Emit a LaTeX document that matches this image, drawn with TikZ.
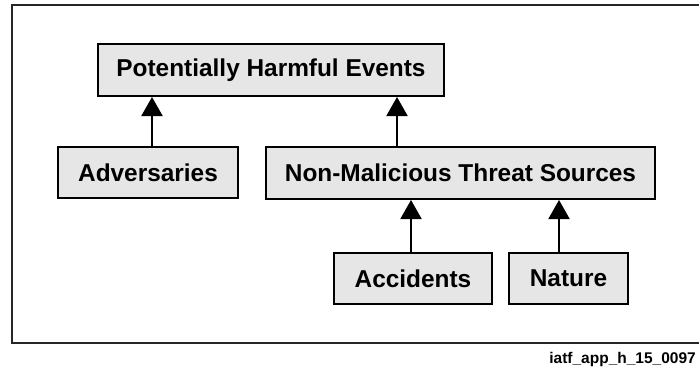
\documentclass[tikz,border=0pt]{standalone}
\usepackage{fontspec}
\setmainfont{Liberation Sans}
\usetikzlibrary{arrows.meta}
\begin{document}
\begin{tikzpicture}[x=1pt,y=-1pt,
  box/.style={draw=black, line width=2pt, fill=boxgray, inner sep=0pt,
    font=\fontsize{24.4}{28}\selectfont\bfseries, text=black},
  arr/.style={line width=2pt, -{Triangle[width=21pt,length=19pt]}},
  frame/.style={line width=1.5pt, draw=black!85}]
\definecolor{boxgray}{HTML}{E6E6E6}
\useasboundingbox (0,0) rectangle (699,373);
\draw[frame] (700,5) -- (12,5) -- (12,343) -- (700,343);
\node[box, minimum width=346pt, minimum height=52pt] (phe) at (271,70) {Potentially Harmful Events};
\node[box, minimum width=180pt, minimum height=51pt] (adv) at (148,172.5) {Adversaries};
\node[box, minimum width=389pt, minimum height=52pt] (nmts) at (460.5,173) {Non-Malicious Threat Sources};
\node[box, minimum width=158pt, minimum height=51pt] (acc) at (413,278.5) {Accidents};
\node[box, minimum width=119pt, minimum height=51pt] (nat) at (568.5,278.5) {Nature};
\coordinate (c1) at (152,0);
\coordinate (c2) at (397,0);
\coordinate (c3) at (411,0);
\coordinate (c4) at (559,0);
\draw[arr] (adv.north -| c1) -- (phe.south -| c1);
\draw[arr] (nmts.north -| c2) -- (phe.south -| c2);
\draw[arr] (acc.north -| c3) -- (nmts.south -| c3);
\draw[arr] (nat.north -| c4) -- (nmts.south -| c4);
\node[anchor=east, inner sep=0pt, font=\fontsize{15.5}{18}\selectfont\bfseries] (lbl) at (696,359) {iatf\_app\_h\_15\_0097};
\end{tikzpicture}
\end{document}
